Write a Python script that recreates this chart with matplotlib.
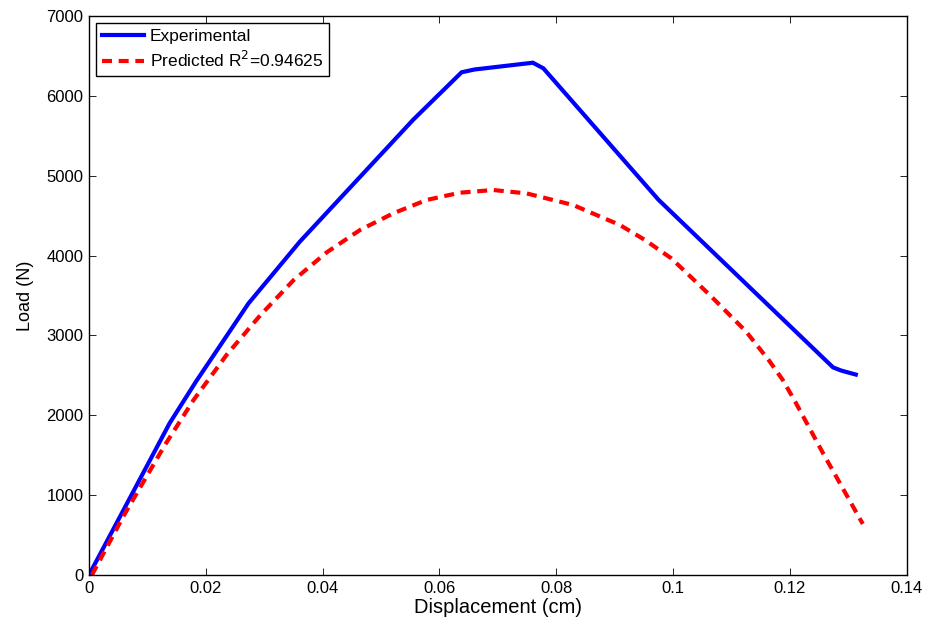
import matplotlib
matplotlib.use("Agg")
import matplotlib.pyplot as plt

# Experimental curve
exp_x = [0.0, 0.0138, 0.0183, 0.0273, 0.0361, 0.0555, 0.0638, 0.066, 0.076, 0.0778,
         0.0975, 0.1274, 0.1288, 0.1313]
exp_y = [0, 1900, 2420, 3400, 4174, 5700, 6295, 6330, 6415, 6345,
         4700, 2600, 2560, 2510]

# Predicted curve
pred_x = [0.0005, 0.006, 0.013, 0.0179, 0.0236, 0.0293, 0.035, 0.0407, 0.0464, 0.0521, 0.0578,
          0.0635, 0.0692, 0.0749, 0.0829, 0.0909, 0.0952, 0.0997, 0.1063, 0.1125, 0.1165,
          0.1188, 0.121, 0.1257, 0.1325]
pred_y = [0, 750, 1628, 2191, 2760, 3250, 3690, 4040, 4320, 4529, 4696,
          4787, 4821, 4779, 4633, 4383, 4195, 3966, 3506, 3050, 2680,
          2442, 2160, 1524, 639]

x_ticks = [0, 0.02, 0.04, 0.06, 0.08, 0.1, 0.12, 0.14]
x_tick_labels = ["0", "0.02", "0.04", "0.06", "0.08", "0.1", "0.12", "0.14"]
y_ticks = [0, 1000, 2000, 3000, 4000, 5000, 6000, 7000]

plt.rcParams['font.family'] = ['Liberation Sans', 'DejaVu Sans']

fig = plt.figure(figsize=(9.27, 6.25), dpi=100)
ax = fig.add_axes([0.096, 0.08, 0.882, 0.8944])

ax.plot(exp_x, exp_y, color='#0000ff', lw=3, label='Experimental', solid_joinstyle='miter')
ax.plot(pred_x, pred_y, color='#ff0000', lw=3, dashes=(2.4, 1.6), label='Predicted R$^2$=0.94625')

ax.set_xlim(0, 0.14)
ax.set_ylim(0, 7000)
ax.set_xticks(x_ticks)
ax.set_xticklabels(x_tick_labels)
ax.set_yticks(y_ticks)
ax.tick_params(direction='in', top=True, right=True, labelsize=12, length=5, width=0.6, pad=4)
for s in ax.spines.values():
    s.set_linewidth(1.0)

ax.set_xlabel('Displacement (cm)', fontsize=14.5, labelpad=2)
ax.set_ylabel('Load (N)', fontsize=13, labelpad=9)

leg = ax.legend(loc='upper left', fontsize=12.5, fancybox=False, edgecolor='black',
                framealpha=1, borderaxespad=0.4, handlelength=2.4, handletextpad=0.35,
                borderpad=0.35, labelspacing=0.35)
leg.get_frame().set_linewidth(1.0)

fig.savefig('out.png', dpi=100)
